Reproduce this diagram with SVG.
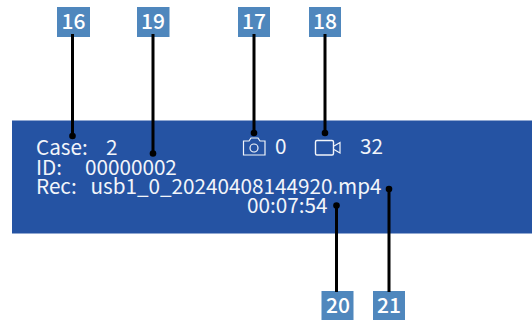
<svg xmlns="http://www.w3.org/2000/svg" width="532" height="323" viewBox="0 0 532 323">
<style>
.t{font-family:"Noto Sans CJK SC","Noto Sans",sans-serif;font-size:20.700px;fill:#f2f5fa}
.b{fill:#4f87bd}
.n{font-family:"Noto Sans CJK SC","Noto Sans",sans-serif;font-size:21px;font-weight:500;fill:#fff;text-anchor:middle}
.c{stroke:#000;stroke-width:3;fill:none}
.d{fill:#000}
.i{fill:none;stroke:#f2f5fa;stroke-width:1.2}
</style>
<rect width="532" height="323" fill="#fff"/>
<g id="panel">
<rect x="12" y="120.500" width="520" height="113" fill="#2553a3"/>
<text class="t" x="36" y="155">Case:</text><text class="t" x="106" y="155">2</text>
<text class="t" x="36" y="175">ID:</text><text class="t" x="85" y="175">00000002</text>
<text class="t" x="36" y="194">Rec:</text><text class="t" x="90.500" y="194">usb1_0_20240408144920.mp4</text>
<text class="t" x="247" y="212.500">00:07:54</text>
<text class="t" x="275" y="154">0</text>
<text class="t" x="360" y="154">32</text>
<path class="i" d="M243.500 155V141H249L251 138H258L260 141H265V155Z"/>
<circle class="i" cx="254" cy="148" r="4"/>
<rect class="i" x="315.500" y="140.500" width="18" height="14.500" rx="1.500" style="stroke-width:1.400"/>
<path class="i" d="M334 146L340 142.500V153L334 149.500"/>
</g>
<g id="n16"><rect class="b" x="57" y="7" width="33" height="30"/><text class="n" x="73.500" y="28.500">16</text></g>
<g id="n19"><rect class="b" x="137" y="7" width="32.500" height="30"/><text class="n" x="153" y="28.500">19</text></g>
<g id="n17"><rect class="b" x="238" y="7" width="32" height="30"/><text class="n" x="254" y="28.500">17</text></g>
<g id="n18"><rect class="b" x="309" y="7" width="32" height="30"/><text class="n" x="325" y="28.500">18</text></g>
<g id="n20"><rect class="b" x="321.500" y="291" width="32" height="29"/><text class="n" x="338" y="312.500">20</text></g>
<g id="n21"><rect class="b" x="373" y="291" width="32" height="29"/><text class="n" x="389" y="312.500">21</text></g>
<g id="connectors">
<path class="c" d="M72.500 34V136M153 34V153.500M254 34V133M325 34V133M336.500 205V292M389 189V292"/>
<circle class="d" cx="72.500" cy="136" r="3.300"/>
<circle class="d" cx="153" cy="153.500" r="3.300"/>
<circle class="d" cx="254" cy="133" r="3.300"/>
<circle class="d" cx="325" cy="133" r="3.300"/>
<circle class="d" cx="336.500" cy="205.500" r="3.300"/>
<circle class="d" cx="389" cy="189" r="3.300"/>
</g>
</svg>
